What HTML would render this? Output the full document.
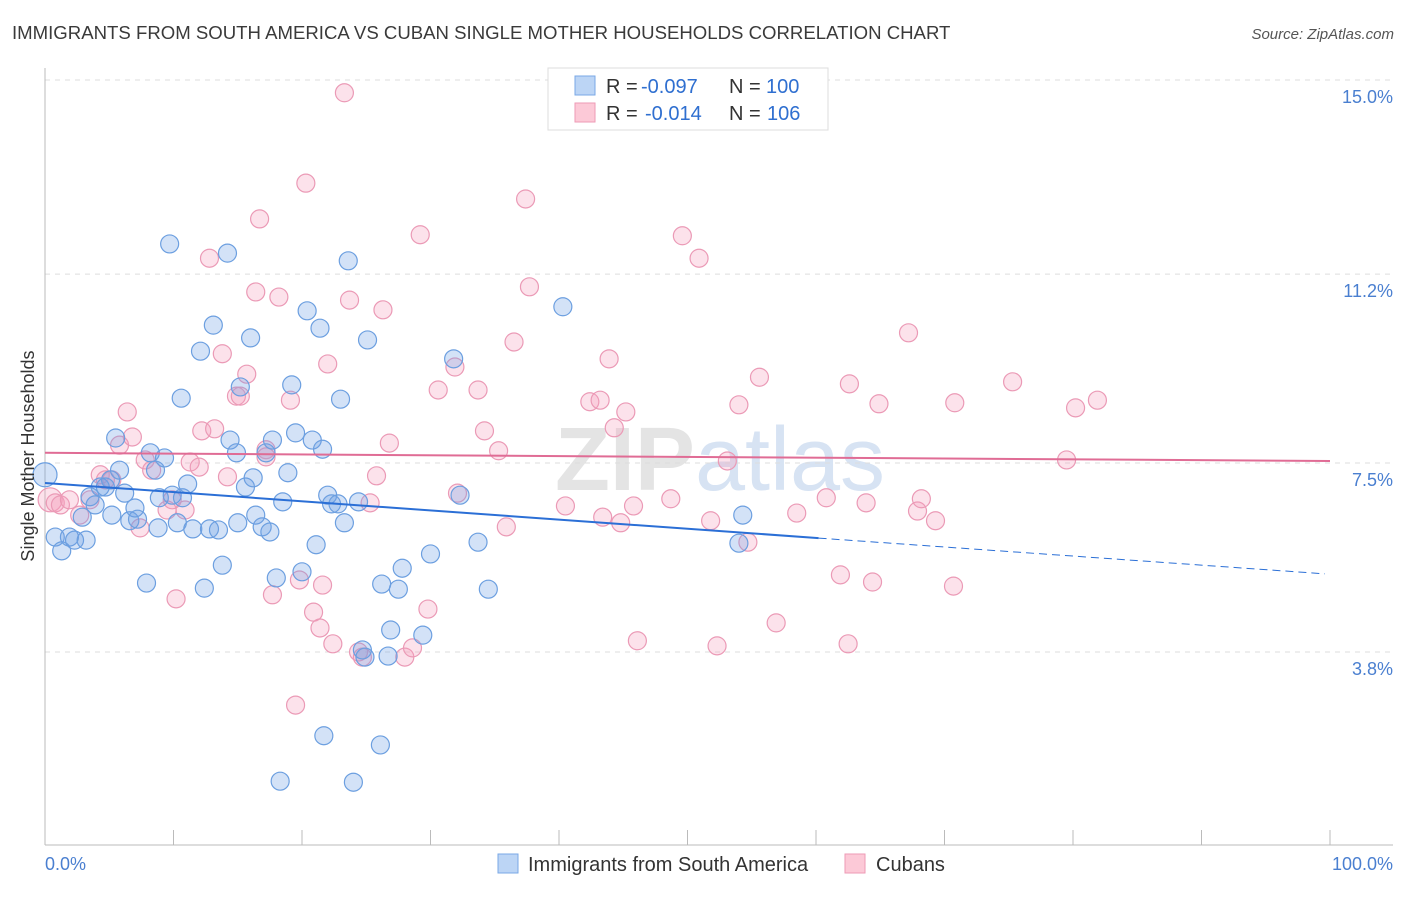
<!DOCTYPE html>
<html><head><meta charset="utf-8"><style>
body{margin:0;background:#fff;font-family:"Liberation Sans",sans-serif;}
svg text{font-family:"Liberation Sans",sans-serif;}
</style></head><body>
<svg id="chart" width="1406" height="892" xmlns="http://www.w3.org/2000/svg">
<text x="12" y="39" font-size="18.6" fill="#3a3a3a">IMMIGRANTS FROM SOUTH AMERICA VS CUBAN SINGLE MOTHER HOUSEHOLDS CORRELATION CHART</text>
<text x="1394" y="39" font-size="15" fill="#555" font-style="italic" text-anchor="end">Source: ZipAtlas.com</text>
<text x="720" y="490" font-size="90" fill="#e4e4e4" text-anchor="middle" font-weight="bold">ZIP<tspan fill="#d7e3f3" font-weight="normal">atlas</tspan></text>
<g id="grid"></g>
<g id="axes"></g>
<g id="pink"></g>
<g id="blue"></g>
<g id="trends"></g>
<text transform="translate(34,456) rotate(-90)" font-size="18" fill="#333" text-anchor="middle">Single Mother Households</text>
<text x="45" y="870" font-size="18" fill="#4a7fd0">0.0%</text>
<text x="1393" y="870" font-size="18" fill="#4a7fd0" text-anchor="end">100.0%</text>
<g>
<rect x="548" y="68" width="280" height="62" fill="#fff" stroke="#ddd"/>
<rect x="575" y="76" width="20" height="19" fill="#bcd5f5" stroke="#7aa8e6"/>
<rect x="575" y="103" width="20" height="19" fill="#fcc9d7" stroke="#ee9ab5"/>
<text x="606" y="93" font-size="20" fill="#333">R =</text>
<text x="641" y="93" font-size="20" fill="#2f6fd0">-0.097</text>
<text x="729" y="93" font-size="20" fill="#333">N =</text>
<text x="766" y="93" font-size="20" fill="#2f6fd0">100</text>
<text x="606" y="120" font-size="20" fill="#333">R =</text>
<text x="645" y="120" font-size="20" fill="#2f6fd0">-0.014</text>
<text x="729" y="120" font-size="20" fill="#333">N =</text>
<text x="767" y="120" font-size="20" fill="#2f6fd0">106</text>
</g>
<g>
<rect x="498" y="854" width="20" height="19" fill="#bcd5f5" stroke="#7aa8e6"/>
<text x="528" y="871" font-size="20" fill="#333">Immigrants from South America</text>
<rect x="845" y="854" width="20" height="19" fill="#fcc9d7" stroke="#ee9ab5"/>
<text x="876" y="871" font-size="20" fill="#333">Cubans</text>
</g>
</svg>
<script>
const yTicks=[3.8,7.5,11.2,15.0];
const xTicks=[0,10,20,30,40,50,60,70,80,90,100];
const blueX=[0,0.8,1.3,1.9,2.3,3.2,2.9,3.5,3.9,4.3,4.7,5.1,5.2,5.5,5.8,6.2,6.6,7.0,7.2,7.9,8.2,8.6,8.9,9.3,8.8,9.7,9.9,10.3,10.7,10.6,11.1,11.5,12.1,12.4,12.8,13.1,13.5,13.8,14.2,14.4,14.9,15.0,15.2,15.6,16.0,16.2,16.4,16.9,17.2,17.5,17.7,18.0,18.3,18.5,18.9,19.2,19.5,20.0,20.4,20.8,21.1,21.4,21.6,21.7,22.0,22.3,22.8,23.0,23.3,23.6,24.0,24.4,24.7,25.1,24.9,26.2,26.1,26.7,26.9,27.5,27.8,29.4,30.0,31.8,32.3,33.7,34.5,40.3,54.3,54.0];
const blueY=[7.27,6.05,5.78,6.05,5.99,5.99,6.44,6.84,6.68,7.03,7.03,7.17,6.48,7.99,7.36,6.91,6.37,6.62,6.4,5.15,7.7,7.36,6.82,7.6,6.23,11.79,6.87,6.33,6.82,8.77,7.09,6.21,9.69,5.05,6.21,10.2,6.19,5.5,11.61,7.95,7.7,6.33,8.99,7.03,9.95,7.21,6.48,6.25,7.7,6.15,7.95,5.25,1.27,6.74,7.31,9.03,8.09,5.37,10.48,7.95,5.9,10.14,7.77,2.16,6.87,6.7,6.7,8.75,6.33,11.46,1.25,6.74,3.84,9.91,3.7,5.13,1.98,3.72,4.23,5.03,5.44,4.13,5.72,9.54,6.87,5.95,5.03,10.56,6.48,5.93];
const pinkX=[0.4,0.8,1.2,1.9,2.7,3.5,4.3,4.7,5.2,5.8,6.4,6.8,7.4,7.8,8.3,9.5,9.9,10.2,10.9,11.3,12.0,12.2,12.8,13.2,13.8,14.2,14.9,15.2,15.7,16.4,16.7,17.2,17.2,17.7,18.2,19.1,19.5,19.8,20.3,20.9,21.4,21.6,22.0,22.4,23.3,23.7,24.4,24.7,25.3,25.8,26.3,26.8,28.0,28.6,29.2,29.8,30.6,31.9,32.1,33.7,34.2,35.3,35.9,36.5,37.4,37.7,40.5,42.4,43.2,43.4,43.9,44.3,44.8,45.2,45.8,46.1,48.7,49.6,50.9,51.8,52.3,53.1,54.0,54.7,55.6,56.9,58.5,60.8,61.9,62.5,62.6,63.9,64.4,64.9,67.2,67.9,68.2,69.3,70.7,70.8,75.3,79.5,80.2,81.9];
const pinkY=[6.78,6.72,6.68,6.78,6.48,6.78,7.27,7.17,7.17,7.85,8.5,8.01,6.23,7.56,7.36,6.58,6.78,4.84,6.58,7.52,7.42,8.13,11.51,8.17,9.64,7.23,8.81,8.81,9.24,10.85,12.28,7.76,7.62,4.92,10.75,8.73,2.76,5.21,12.98,4.58,4.27,5.11,9.44,3.96,14.75,10.69,3.8,3.7,6.72,7.25,10.5,7.89,3.7,3.88,11.97,4.64,8.93,9.38,6.91,8.93,8.13,7.74,6.25,9.87,12.67,10.95,6.66,8.7,8.73,6.44,9.54,8.19,6.33,8.5,6.66,4.02,6.8,11.95,11.51,6.37,3.92,7.54,8.64,5.95,9.18,4.37,6.52,6.82,5.31,3.96,9.05,6.72,5.17,8.66,10.05,6.56,6.8,6.37,5.09,8.68,9.09,7.56,8.58,8.73];
const blueTrend=[7.11,6.03,5.33];
const blueTrendX=[0,60.2,99.6];
const pinkTrend=[7.70,7.54];
const pinkTrendX=[0,100];

const NS="http://www.w3.org/2000/svg";
const X=v=>45+v*12.85;
const Y=v=>80+(15-v)*51.07;
function mk(tag,attrs,parent){const e=document.createElementNS(NS,tag);for(const k in attrs)e.setAttribute(k,attrs[k]);parent.appendChild(e);return e;}
const grid=document.getElementById('grid');
yTicks.forEach(t=>{
  const l=mk('line',{x1:45,x2:1393,y1:Y(t),y2:Y(t),stroke:'#ddd','stroke-dasharray':'5,5'},grid);
  
  
  const tx=mk('text',{x:1393,y:Y(t)+23,'font-size':18,fill:'#4a7fd0','text-anchor':'end'},grid);
  tx.textContent=t.toFixed(1)+'%';
  
  
});
const axes=document.getElementById('axes');
const al=mk('line',{x1:45,x2:45,y1:68,y2:845,stroke:'#bbb'},axes);


const bl=mk('line',{x1:45,x2:1393,y1:845,y2:845,stroke:'#bbb'},axes);


xTicks.forEach(t=>{
  const l=mk('line',{x1:X(t),x2:X(t),y1:830,y2:845,stroke:'#bbb'},axes);
  
  
});
function dots(xs,ys,g,fill,stroke,name){
  xs.forEach((x,i)=>{
    const r=(i===0&&x<1)?12:9;
    const c=mk('circle',{cx:X(x),cy:Y(ys[i]),r:r,fill:fill,stroke:stroke,'stroke-width':1.2},g);
    
    
  });
}
dots(pinkX,pinkY,document.getElementById('pink'),'rgba(244,160,188,0.3)','#eb9ab6','cubans-point');
dots(blueX,blueY,document.getElementById('blue'),'rgba(110,160,230,0.3)','#6c9fe0','south-america-point');
const tr=document.getElementById('trends');
const b1=mk('line',{x1:X(blueTrendX[0]),y1:Y(blueTrend[0]),x2:X(blueTrendX[1]),y2:Y(blueTrend[1]),stroke:'#2b6fd6','stroke-width':2},tr);


const b2=mk('line',{x1:X(blueTrendX[1]),y1:Y(blueTrend[1]),x2:X(blueTrendX[2]),y2:Y(blueTrend[2]),stroke:'#2b6fd6','stroke-width':1,'stroke-dasharray':'8,5'},tr);


const p1=mk('line',{x1:X(pinkTrendX[0]),y1:Y(pinkTrend[0]),x2:X(pinkTrendX[1]),y2:Y(pinkTrend[1]),stroke:'#e06c95','stroke-width':2},tr);


</script>
</body></html>
